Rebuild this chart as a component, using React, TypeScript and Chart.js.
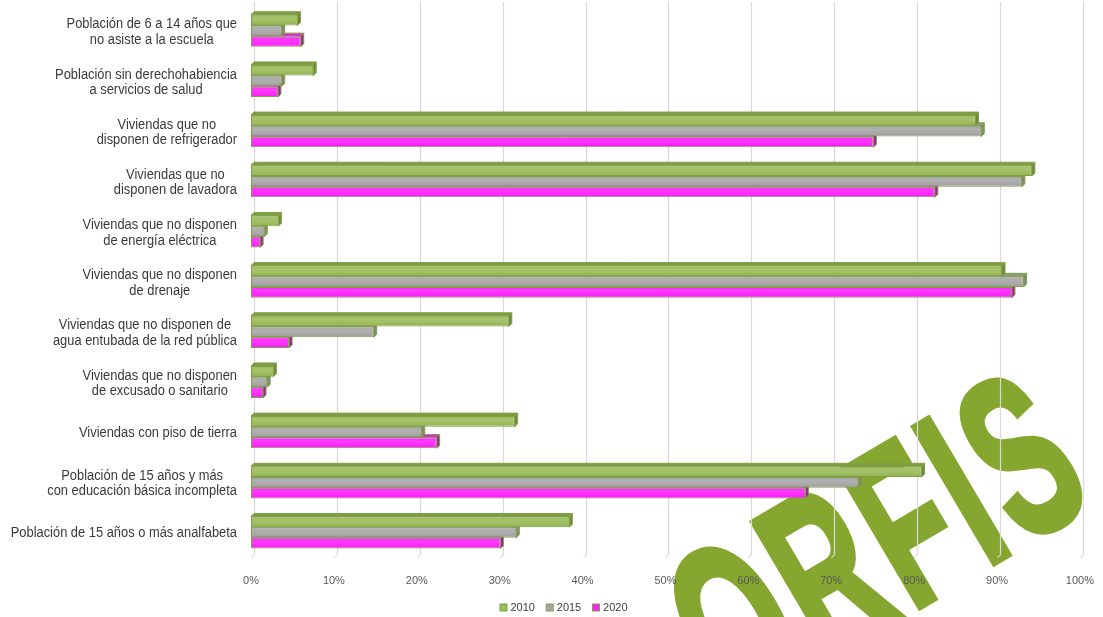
import React, { useEffect, useRef } from "react";
import { Chart, registerables } from "chart.js";

Chart.register(...registerables);

// ---- DATA ----
const categories: string[][] = [
  ["Población de 6 a 14 años que", "no asiste a la escuela"],
  ["Población sin derechohabiencia", "a servicios de salud"],
  ["Viviendas que no", "disponen de refrigerador"],
  ["Viviendas que no", "disponen de lavadora"],
  ["Viviendas que no disponen", "de energía eléctrica"],
  ["Viviendas que no disponen", "de drenaje"],
  ["Viviendas que no disponen de", "agua entubada de la red pública"],
  ["Viviendas que no disponen", "de excusado o sanitario"],
  ["Viviendas con piso de tierra"],
  ["Población de 15 años y más", "con educación básica incompleta"],
  ["Población de 15 años o más analfabeta"],
];
const values2010 = [5.6, 7.5, 87.4, 94.2, 3.3, 90.6, 31.1, 2.7, 31.8, 80.9, 38.4];
const values2015 = [3.7, 3.7, 88.1, 93.0, 1.6, 93.2, 14.8, 1.95, 20.6, 73.3, 32.0];
const values2020 = [6.0, 3.25, 75.1, 82.5, 1.1, 91.8, 4.6, 1.45, 22.4, 66.9, 30.1];
const seriesLabels = ["2010", "2015", "2020"];
const xMin = 0;
const xMax = 100;
const xStep = 10;
const watermarkText = "ORFIS";

// ---- STYLE ----
const FONT = '"Liberation Sans", Arial, sans-serif';
const frontColors = ["#9bbb59", "#a6a6a6", "#ff21ff"];
const topColors = ["#7f9c45", "#8f9a80", "#e61ee6"];
const sideColors = ["#6f8b38", "#7f8a70", "#a51fa5"];
const edgeColor = "#80a048";

export default function App() {
  const ref = useRef<HTMLCanvasElement | null>(null);

  useEffect(() => {
    const canvas = ref.current;
    if (!canvas) return;

    const watermark = {
      id: "watermark",
      beforeDraw(chart: any) {
        const ctx = chart.ctx;
        ctx.save();
        ctx.font = `bold 228px ${FONT}`;
        const sx = 0.567;
        const spacing = 13; // extra space between letters (unscaled px)
        const chars = watermarkText.split("");
        const widths = chars.map((c) => ctx.measureText(c).width);
        const lefts: number[] = [];
        let cur = 0;
        widths.forEach((w) => {
          lefts.push(cur);
          cur += w + spacing;
        });
        const anchorIdx = 3; // the "I"
        const anchor = lefts[anchorIdx] + widths[anchorIdx] / 2;
        ctx.translate(1001.3, 558.5);
        ctx.rotate((-30.5 * Math.PI) / 180);
        ctx.scale(sx, 1);
        ctx.fillStyle = "#85a62f";
        ctx.strokeStyle = "#85a62f";
        ctx.lineWidth = 7;
        ctx.lineJoin = "miter";
        ctx.textBaseline = "alphabetic";
        ctx.textAlign = "left";
        chars.forEach((c, i) => {
          ctx.fillText(c, lefts[i] - anchor, 0);
          ctx.strokeText(c, lefts[i] - anchor, 0);
        });
        ctx.restore();
      },
    };

    const grid3d = {
      id: "grid3d",
      beforeDatasetsDraw(chart: any) {
        const ctx = chart.ctx;
        const xs = chart.scales.x;
        const { top, bottom } = chart.chartArea;
        ctx.save();
        ctx.strokeStyle = "#d9d9d9";
        ctx.lineWidth = 1.2;
        xs.ticks.forEach((t: any) => {
          const px = Math.round(xs.getPixelForValue(t.value)) + 3.5;
          ctx.beginPath();
          ctx.moveTo(px, top - 4);
          ctx.lineTo(px, bottom - 3);
          ctx.lineTo(px - 3, bottom);
          ctx.stroke();
        });
        ctx.restore();
      },
    };

    const bars3d = {
      id: "bars3d",
      beforeDatasetDraw(chart: any, args: any) {
        const ctx = chart.ctx;
        const i = args.index;
        const d = 3;
        ctx.save();
        ctx.strokeStyle = edgeColor;
        ctx.lineWidth = 1;
        args.meta.data.forEach((el: any) => {
          const { x, y, base, height } = el.getProps(["x", "y", "base", "height"], true);
          const top = y - height / 2;
          const bottom = y + height / 2;
          ctx.fillStyle = topColors[i];
          ctx.beginPath();
          ctx.moveTo(base, top);
          ctx.lineTo(base + d, top - d);
          ctx.lineTo(x + d, top - d);
          ctx.lineTo(x, top);
          ctx.closePath();
          ctx.fill();
          ctx.stroke();
          ctx.fillStyle = sideColors[i];
          ctx.beginPath();
          ctx.moveTo(x, top);
          ctx.lineTo(x + d, top - d);
          ctx.lineTo(x + d, bottom - d);
          ctx.lineTo(x, bottom);
          ctx.closePath();
          ctx.fill();
          ctx.stroke();
        });
        ctx.restore();
      },
      afterDatasetDraw(chart: any, args: any) {
        const ctx = chart.ctx;
        ctx.save();
        args.meta.data.forEach((el: any) => {
          const { x, y, base, height } = el.getProps(["x", "y", "base", "height"], true);
          const top = y - height / 2;
          const g = ctx.createLinearGradient(0, top, 0, top + height);
          g.addColorStop(0, "rgba(255,255,255,0)");
          g.addColorStop(0.35, "rgba(255,255,255,0.12)");
          g.addColorStop(0.6, "rgba(255,255,255,0.05)");
          g.addColorStop(1, "rgba(0,0,0,0.06)");
          ctx.fillStyle = g;
          ctx.fillRect(base + 1, top + 1, Math.max(0, x - base - 2), height - 2);
        });
        ctx.restore();
      },
    };

    const catLabels = {
      id: "catLabels",
      afterDraw(chart: any) {
        const ctx = chart.ctx;
        const ys = chart.scales.y;
        const right = 237;
        const lh = 15.5;
        const sx = 0.92;
        ctx.save();
        ctx.font = `14px ${FONT}`;
        ctx.fillStyle = "#3a3a3a";
        ctx.textBaseline = "middle";
        ctx.textAlign = "center";
        categories.forEach((lines, i) => {
          const yc = ys.getPixelForValue(i) + (lines.length > 1 ? 1.5 : 0.5);
          const widths = lines.map((l) => ctx.measureText(l).width * sx);
          const bw = Math.max(...widths);
          const cx = right - bw / 2;
          lines.forEach((l, j) => {
            const ly = yc + (j - (lines.length - 1) / 2) * lh;
            ctx.save();
            ctx.translate(cx, ly);
            ctx.scale(sx, 1);
            ctx.fillText(l, 0, 0);
            ctx.restore();
          });
        });
        ctx.restore();
      },
    };

    const legend = {
      id: "customLegend",
      afterDraw(chart: any) {
        const ctx = chart.ctx;
        ctx.save();
        ctx.font = `11px ${FONT}`;
        ctx.textBaseline = "middle";
        ctx.textAlign = "left";
        const box = 7;
        const gapText = 4;
        const gapItem = 10.8;
        const items = chart.data.datasets.map((ds: any, i: number) => ({
          text: ds.label as string,
          color: frontColors[i],
          w: box + gapText + ctx.measureText(ds.label).width,
        }));
        const total = items.reduce((s: number, it: any) => s + it.w, 0) + gapItem * (items.length - 1);
        let x = 563.5 - total / 2;
        const yc = 607.5;
        items.forEach((it: any) => {
          ctx.fillStyle = it.color;
          ctx.fillRect(x + 0.5, yc - box / 2, box, box);
          ctx.strokeStyle = edgeColor;
          ctx.lineWidth = 1;
          ctx.strokeRect(x + 0.5, yc - box / 2, box, box);
          ctx.fillStyle = "#404040";
          ctx.fillText(it.text, x + box + gapText, yc);
          x += it.w + gapItem;
        });
        ctx.restore();
      },
    };

    const chart = new Chart(canvas, {
      type: "bar",
      data: {
        labels: categories.map((c) => c.join(" ")),
        datasets: [values2010, values2015, values2020].map((vals, i) => ({
          label: seriesLabels[i],
          data: vals,
          backgroundColor: frontColors[i],
          borderColor: edgeColor,
          borderWidth: 1,
          borderSkipped: false,
          categoryPercentage: 0.64,
          barPercentage: 1,
        })),
      },
      options: {
        indexAxis: "y",
        responsive: false,
        animation: false,
        layout: { padding: { left: 251, right: 18, top: 5.7, bottom: 0 } },
        plugins: {
          legend: { display: false },
          tooltip: { enabled: false },
        },
        scales: {
          x: {
            min: xMin,
            max: xMax,
            position: "bottom",
            ticks: {
              stepSize: xStep,
              callback: (v: any) => `${v}%`,
              color: "#595959",
              font: { family: FONT, size: 11 },
              padding: 9,
              maxRotation: 0,
              autoSkip: false,
            },
            grid: { display: false },
            border: { display: false },
            afterFit: (s: any) => {
              s.height = 59.4;
            },
          },
          y: {
            ticks: { display: false },
            grid: { display: false },
            border: { display: false },
            afterFit: (s: any) => {
              s.width = 0;
            },
          },
        },
      } as any,
      plugins: [watermark, grid3d, bars3d, catLabels, legend],
    });

    return () => chart.destroy();
  }, []);

  return (
    <div style={{ position: "fixed", left: 0, top: 0, width: 1103, height: 617, background: "#fff" }}>
      <canvas ref={ref} width={1103} height={617} style={{ display: "block" }} />
    </div>
  );
}
